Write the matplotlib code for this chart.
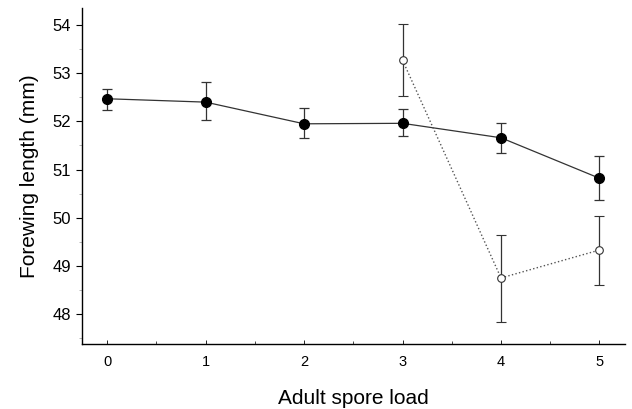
import matplotlib
matplotlib.use("Agg")
import matplotlib.pyplot as plt
from matplotlib.ticker import MultipleLocator

plt.rcParams['font.family'] = ['Liberation Sans', 'DejaVu Sans']

# Data
x_filled = [0, 1, 2, 3, 4, 5]
y_filled = [52.47, 52.40, 51.95, 51.96, 51.66, 50.82]
err_lo_filled = [0.23, 0.37, 0.30, 0.26, 0.32, 0.46]
err_hi_filled = [0.21, 0.41, 0.32, 0.29, 0.31, 0.46]

x_open = [3, 4, 5]
y_open = [53.27, 48.75, 49.33]
err_lo_open = [0.75, 0.91, 0.73]
err_hi_open = [0.75, 0.90, 0.70]

xticks = [0, 1, 2, 3, 4, 5]
yticks = [48, 49, 50, 51, 52, 53, 54]

fig = plt.figure(figsize=(6.32, 4.09), dpi=100)
ax = fig.add_axes([0.130, 0.159, 0.859, 0.821])

ax.errorbar(x_filled, y_filled, yerr=[err_lo_filled, err_hi_filled],
            fmt='o', color='black', ms=7, ecolor='#333333', elinewidth=0.9,
            capsize=3.5, capthick=0.9, zorder=3)
ax.plot(x_filled, y_filled, '-', color='#333333', lw=0.9, zorder=2)

ax.errorbar(x_open, y_open, yerr=[err_lo_open, err_hi_open],
            fmt='o', mfc='white', mec='#333333', ms=5.5, mew=0.8,
            ecolor='#333333', elinewidth=0.9, capsize=3.5, capthick=0.9, zorder=3)
ax.plot(x_open, y_open, ':', color='#555555', lw=1.0, zorder=2)

ax.set_xlim(-0.254, 5.26)
ax.set_ylim(47.38, 54.35)
ax.set_xticks(xticks)
ax.set_yticks(yticks)
ax.yaxis.set_minor_locator(MultipleLocator(0.5))
ax.xaxis.set_minor_locator(MultipleLocator(0.5))
ax.tick_params(axis='y', which='major', direction='out', length=4, width=0.8, labelsize=12, pad=4)
ax.tick_params(axis='y', which='minor', direction='out', length=2, width=0.5, color='#999999')
ax.tick_params(axis='x', which='major', direction='in', length=3, width=0.6, labelsize=10.5, pad=8)
ax.tick_params(axis='x', which='minor', direction='in', length=2, width=0.5)

for s in ['top', 'right']:
    ax.spines[s].set_visible(False)
for s in ['left', 'bottom']:
    ax.spines[s].set_linewidth(1.0)

ax.set_ylabel('Forewing length (mm)', fontsize=15, labelpad=10)
ax.set_xlabel('Adult spore load', fontsize=15, labelpad=14)

fig.savefig('out.png', dpi=100)
